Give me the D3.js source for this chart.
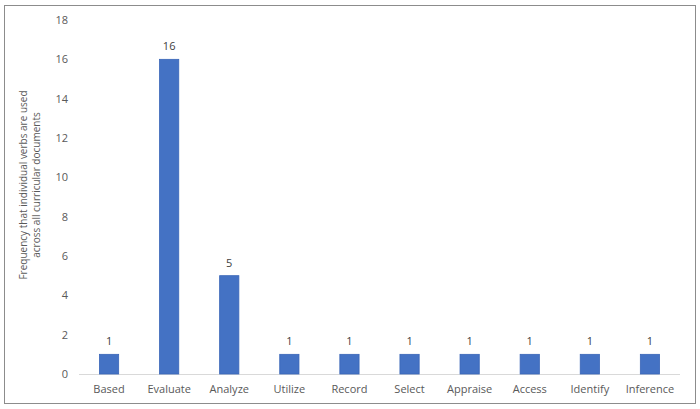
<!DOCTYPE html>
<html><head><meta charset="utf-8">
<script src="https://cdn.jsdelivr.net/npm/d3@7/dist/d3.min.js"></script>
<style>body{margin:0;background:#fff}svg{display:block}text{font-family:"Open Sans","Noto Sans",sans-serif}</style>
</head><body><svg id="c" width="700" height="409"></svg>
<script>
const categories = ["Based","Evaluate","Analyze","Utilize","Record","Select","Appraise","Access","Identify","Inference"];
const values = [1,16,5,1,1,1,1,1,1,1];
const yTicks = [0,2,4,6,8,10,12,14,16,18];
const yTitle = ["Frequency that individual verbs are used","across all curricular documents"];

const svg = d3.select("#c");
svg.append("rect").attr("x",4.5).attr("y",5.5).attr("width",691).attr("height",398)
  .attr("fill","#fff").attr("stroke","#8c8c8c").attr("stroke-width",1);

const x = d3.scaleBand().domain(categories).range([79,680]).paddingInner(0.68).paddingOuter(0.34);
const y = d3.scaleLinear().domain([0,18]).range([374,20]);

const txt = "#595959";
svg.append("g").selectAll("text").data(yTicks).join("text")
  .attr("x",68).attr("y",d=>y(d)).attr("dy","0.35em").attr("text-anchor","end")
  .attr("font-size",11).attr("fill",txt).text(d=>d);

svg.append("line").attr("x1",79).attr("x2",680).attr("y1",y(0)+0.5).attr("y2",y(0)+0.5)
  .attr("stroke","#d9d9d9").attr("stroke-width",1);

svg.append("g").selectAll("rect").data(categories).join("rect")
  .attr("x",d=>x(d)).attr("width",x.bandwidth())
  .attr("y",(d,i)=>y(values[i])).attr("height",(d,i)=>y(0)-y(values[i]))
  .attr("fill","#4472C4").attr("stroke","#3a66b8").attr("stroke-width",0.8);

svg.append("g").selectAll("text").data(categories).join("text")
  .attr("x",d=>x(d)+x.bandwidth()/2).attr("y",(d,i)=>y(values[i])-9)
  .attr("text-anchor","middle").attr("font-size",11).attr("fill","#404040")
  .text((d,i)=>values[i]);

svg.append("g").selectAll("text").data(categories).join("text")
  .attr("x",d=>x(d)+x.bandwidth()/2).attr("y",389).attr("dy","0.35em")
  .attr("text-anchor","middle").attr("font-size",11).attr("fill",txt).text(d=>d);

const t = svg.append("text").attr("transform","translate(30,185) rotate(-90)")
  .attr("text-anchor","middle").attr("font-size",10).attr("fill",txt);
t.append("tspan").attr("x",0).attr("dy","-0.3em").text(yTitle[0]);
t.append("tspan").attr("x",0).attr("dy","1.3em").text(yTitle[1]);
</script></body></html>
